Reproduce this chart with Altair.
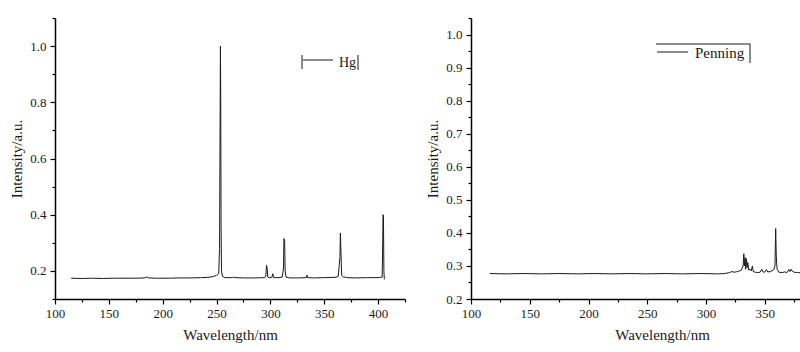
import altair as alt
import pandas as pd

# ---------------- data ----------------
hg_wl = [115, 125, 135, 145, 155, 165, 175, 183, 185, 187, 195, 205, 215, 225, 235, 242,
         247, 250, 252, 252.8, 253.2, 253.6, 253.9, 254.2, 254.6, 255.5, 258, 265, 266, 267,
         275, 285, 294, 295.8, 296.4, 297, 297.6, 299, 301.5, 302.2, 303, 308, 311, 312.2,
         312.6, 313.2, 313.7, 314.5, 318, 326, 333.5, 334, 334.6, 340, 350, 360, 363, 364.6,
         365.0, 365.5, 366.2, 368, 370, 371, 380, 390, 400, 403.8, 404.3, 404.6, 405.0, 405.4,
         405.8]
hg_int = [0.174, 0.173, 0.174, 0.173, 0.174, 0.174, 0.174, 0.175, 0.178, 0.175, 0.174, 0.174,
          0.175, 0.175, 0.176, 0.177, 0.180, 0.184, 0.19, 0.28, 0.64, 1.0, 0.81, 0.38, 0.20,
          0.18, 0.176, 0.176, 0.178, 0.176, 0.175, 0.175, 0.176, 0.18, 0.22, 0.21, 0.178,
          0.175, 0.178, 0.19, 0.176, 0.176, 0.178, 0.21, 0.315, 0.31, 0.2, 0.178, 0.175,
          0.175, 0.176, 0.185, 0.176, 0.175, 0.176, 0.177, 0.180, 0.25, 0.335, 0.27, 0.185,
          0.177, 0.178, 0.176, 0.175, 0.176, 0.176, 0.178, 0.30, 0.40, 0.39, 0.20, 0.17]

pen_wl = [116, 130, 145, 160, 175, 190, 205, 220, 235, 250, 265, 280, 295, 310, 316, 320,
          322, 324, 327, 330, 331.6, 332.2, 332.7, 333.3, 333.8, 334.4, 335, 335.6, 336.3,
          337.5, 338.5, 339.5, 340.2, 342, 344, 346, 347.5, 348.5, 350, 351.5, 352.5, 355,
          357.5, 358.7, 359.3, 359.8, 360.5, 362, 365, 367, 369, 370.5, 371.5, 372.5, 373.5,
          375, 378, 382, 385]
pen_int = [0.277, 0.276, 0.277, 0.276, 0.277, 0.276, 0.277, 0.276, 0.277, 0.276, 0.277,
           0.276, 0.277, 0.276, 0.277, 0.280, 0.283, 0.281, 0.283, 0.287, 0.30, 0.337, 0.30,
           0.325, 0.29, 0.322, 0.295, 0.31, 0.288, 0.29, 0.285, 0.30, 0.283, 0.281, 0.28,
           0.281, 0.29, 0.282, 0.281, 0.289, 0.282, 0.283, 0.288, 0.30, 0.413, 0.33, 0.29,
           0.281, 0.28, 0.282, 0.28, 0.289, 0.283, 0.29, 0.284, 0.281, 0.28, 0.279, 0.28]

hg_x_ticks = [100, 125, 150, 175, 200, 225, 250, 275, 300, 325, 350, 375, 400, 425]
hg_y_ticks = [0.1, 0.2, 0.3, 0.4, 0.5, 0.6, 0.7, 0.8, 0.9, 1.0, 1.1]
pen_x_ticks = [100, 125, 150, 175, 200, 225, 250, 275, 300, 325, 350, 375]
pen_y_ticks = [0.2, 0.25, 0.3, 0.35, 0.4, 0.45, 0.5, 0.55, 0.6, 0.65, 0.7, 0.75, 0.8,
               0.85, 0.9, 0.95, 1.0, 1.05]

legend_hg = "Hg"
legend_pen = "Penning"

FONT = "Liberation Serif"
INK = "#1a1a1a"

hg_df = pd.DataFrame({"wl": hg_wl, "val": hg_int})
pen_df = pd.DataFrame({"wl": pen_wl, "val": pen_int})
one = pd.DataFrame({"k": [0]})

X_MAJOR = "datum.value % 50 == 0"


def x_axis(values, **kw):
    return alt.Axis(
        values=values, title="Wavelength/nm", format="d",
        labelExpr=f"{X_MAJOR} ? datum.label : ''",
        tickSize={"condition": {"test": X_MAJOR, "value": 5}, "value": 3},
        labelFlush=False, labelOverlap=False,
        labelPadding=3, titlePadding=7, **kw)


def y_axis(values, major_test):
    return alt.Axis(
        values=values, title="Intensity/a.u.", format=".1f",
        labelExpr=f"({major_test}) ? datum.label : ''",
        tickSize={"condition": {"test": major_test, "value": 5}, "value": 3},
        labelFlush=False, labelOverlap=False,
        labelPadding=4, titlePadding=5)


def legend_rule(x, y, x2=None, y2=None):
    enc = dict(x=alt.value(x), y=alt.value(y))
    if x2 is not None:
        enc["x2"] = alt.value(x2)
    if y2 is not None:
        enc["y2"] = alt.value(y2)
    return alt.Chart(one).mark_rule(color=INK, strokeWidth=1).encode(**enc)


def legend_text(x, y, txt, size=15):
    return alt.Chart(one).mark_text(
        align="left", baseline="alphabetic", font=FONT, fontSize=size, color=INK
    ).encode(x=alt.value(x), y=alt.value(y), text=alt.value(txt))


# ---------------- left: Hg ----------------
hg_line = alt.Chart(hg_df).mark_line(color=INK, strokeWidth=1, clip=True).encode(
    x=alt.X("wl:Q", scale=alt.Scale(domain=[100, 425], nice=False, zero=False),
            axis=x_axis(hg_x_ticks)),
    y=alt.Y("val:Q", scale=alt.Scale(domain=[0.1, 1.1], nice=False, zero=False),
            axis=y_axis(hg_y_ticks, "round(datum.value * 10) % 2 == 0")),
)
left = alt.layer(
    hg_line,
    legend_rule(247, 37, y2=51),
    legend_rule(248, 42, x2=278),
    legend_text(284, 49, legend_hg, 14),
    legend_rule(303, 37, y2=52),
).properties(width=350, height=281)

# ---------------- right: Penning ----------------
pen_line = alt.Chart(pen_df).mark_line(color=INK, strokeWidth=1, clip=True).encode(
    x=alt.X("wl:Q", scale=alt.Scale(domain=[100, 380], nice=False, zero=False),
            axis=x_axis(pen_x_ticks, titleX=191)),
    y=alt.Y("val:Q", scale=alt.Scale(domain=[0.2, 1.05], nice=False, zero=False),
            axis=y_axis(pen_y_ticks, "round(datum.value * 100) % 10 == 0")),
)
right = alt.layer(
    pen_line,
    legend_rule(185, 26, x2=279),
    legend_rule(186, 34, x2=217),
    legend_text(224, 40, legend_pen, 15),
    legend_rule(279, 26, y2=45),
).properties(width=329, height=281)

chart = alt.hconcat(left, right, spacing=66, bounds="flush").properties(
    padding={"left": 9, "top": 12, "right": 0, "bottom": 5},
    background="white",
).configure_view(stroke=None).configure_axis(
    grid=False,
    domainColor="black", domainWidth=1.5,
    tickColor="black", tickWidth=1.2,
    labelFont=FONT, labelFontSize=13, labelColor=INK,
    titleFont=FONT, titleFontSize=15, titleFontWeight="normal", titleColor=INK,
)

chart.save("out.html", embed_options={"renderer": "svg", "actions": False})
